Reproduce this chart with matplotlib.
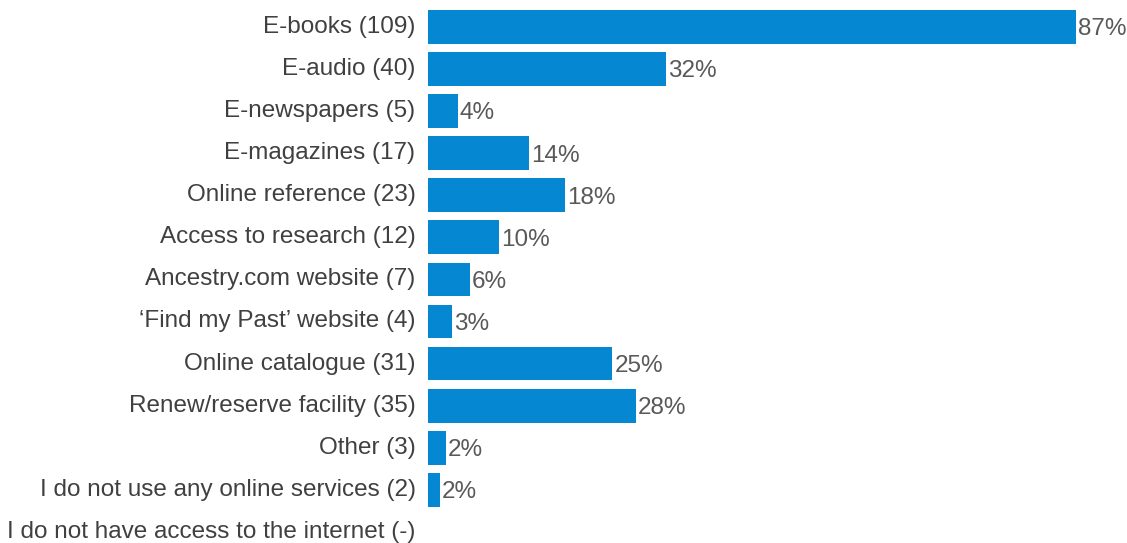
import matplotlib
matplotlib.use("Agg")
import matplotlib.pyplot as plt
from matplotlib.transforms import ScaledTranslation

categories = [
    "E-books (109)",
    "E-audio (40)",
    "E-newspapers (5)",
    "E-magazines (17)",
    "Online reference (23)",
    "Access to research (12)",
    "Ancestry.com website (7)",
    "\u2018Find my Past\u2019 website (4)",
    "Online catalogue (31)",
    "Renew/reserve facility (35)",
    "Other (3)",
    "I do not use any online services (2)",
    "I do not have access to the internet (-)",
]
values = [87.2, 32.0, 4.0, 13.6, 18.4, 9.6, 5.6, 3.2, 24.8, 28.0, 2.4, 1.6, None]
labels = ["87%", "32%", "4%", "14%", "18%", "10%", "6%", "3%", "25%", "28%", "2%", "2%", ""]

plt.rcParams['font.family'] = ['Liberation Sans', 'DejaVu Sans']

fig = plt.figure(figsize=(11.27, 5.43), dpi=100)
ax = fig.add_axes([428 / 1127, 0, 1 - 428 / 1127, 1])

ys = list(range(len(categories)))
bar_vals = [v if v is not None else 0 for v in values]
bars = ax.barh(ys, bar_vals, height=0.8, color="#0587D2")
for b, v, lab in zip(bars, values, labels):
    if v is None:
        continue
    ax.annotate(lab, (b.get_width(), b.get_y() + b.get_height() / 2),
                xytext=(1.5, 0), textcoords="offset points",
                va="center_baseline", ha="left", fontsize=17.5, color="#595959")

ax.set_yticks(ys)
ax.set_yticklabels(categories, fontsize=17.5, color="#404040")
ax.tick_params(axis="y", length=0, pad=9)
shift = ScaledTranslation(0, 2.5 / 100, fig.dpi_scale_trans)
for t in ax.get_yticklabels():
    t.set_transform(t.get_transform() + shift)
ax.set_xticks([])
ax.set_xlim(0, 94.1)
ax.set_ylim(12.26, -0.634)
for s in ax.spines.values():
    s.set_visible(False)

fig.savefig("out.png", dpi=100)
